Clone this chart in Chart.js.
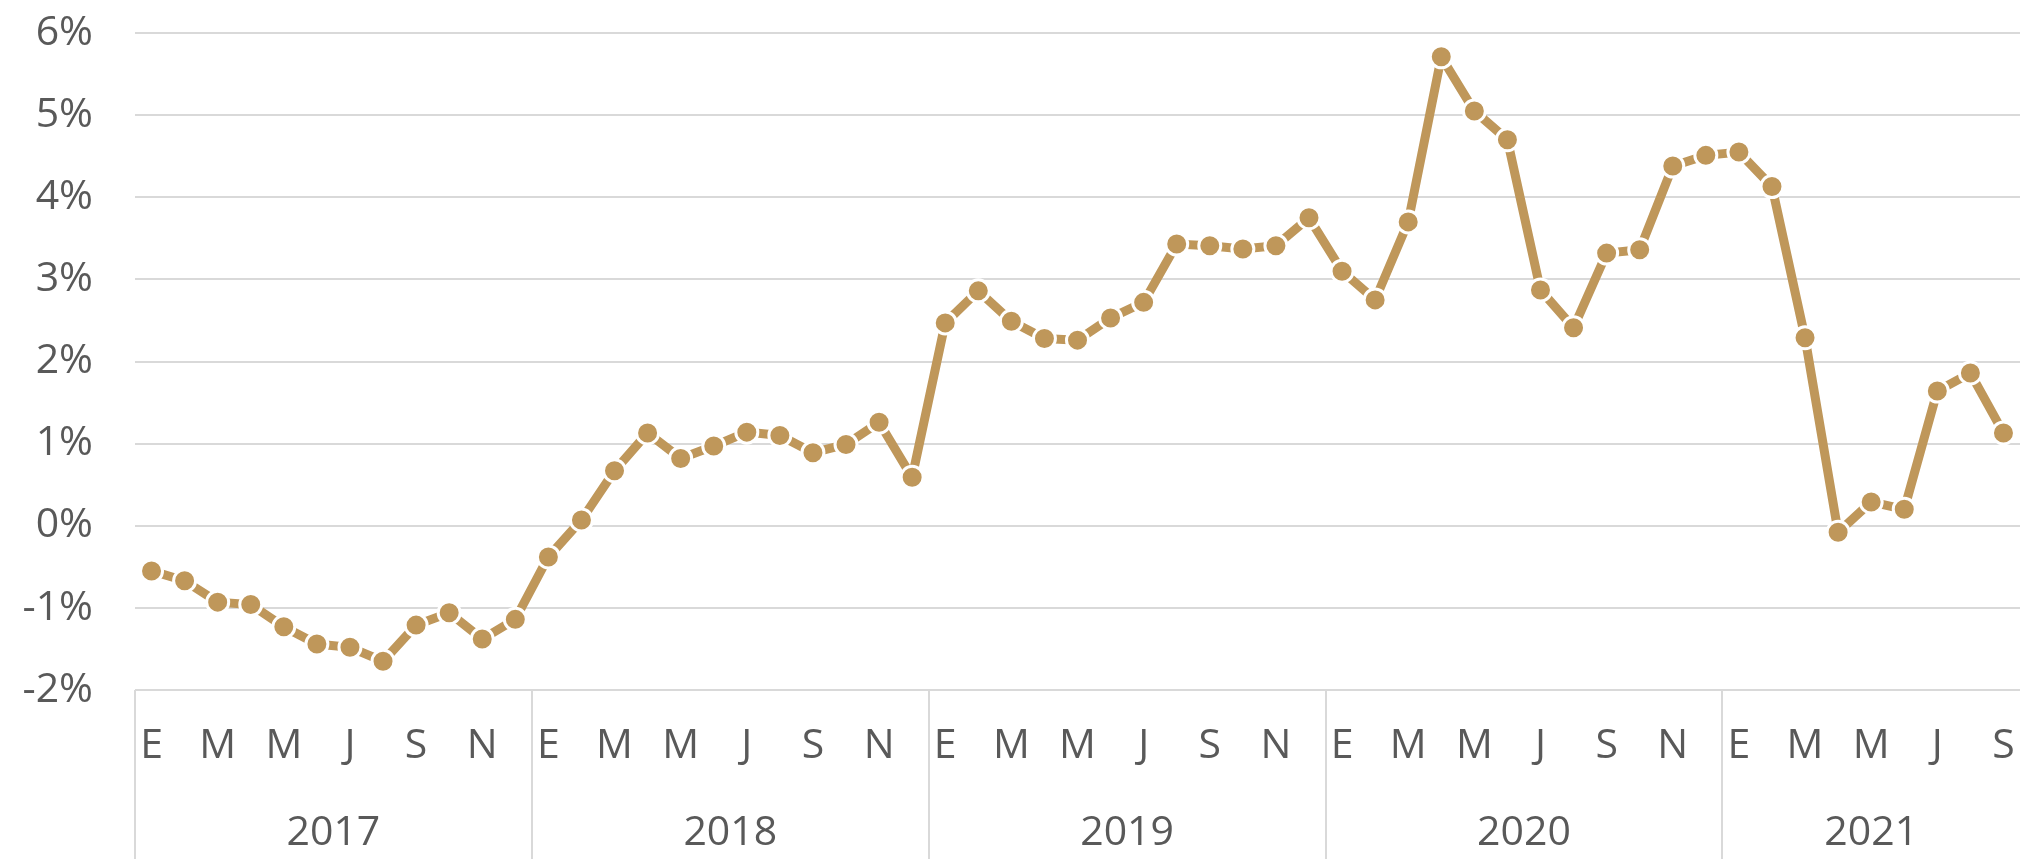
<!DOCTYPE html>
<html>
<head>
<meta charset="utf-8">
<script src="https://cdn.jsdelivr.net/npm/chart.js@4"></script>
<style>
  html, body { margin: 0; padding: 0; background: #fff; }
  #wrap { width: 2020px; height: 859px; }
</style>
</head>
<body>
<div id="wrap"><canvas id="chart" width="2020" height="859"></canvas></div>
<script>
// month initials (Spanish) and years shown on the x axis
const monthInitials = ['E', 'F', 'M', 'A', 'M', 'J', 'J', 'A', 'S', 'O', 'N', 'D'];
const years = ['2017', '2018', '2019', '2020', '2021'];
const monthsPerYear = [12, 12, 12, 12, 9];

// monthly values, % (Jan 2017 - Sep 2021)
const values = [
  -0.55, -0.67, -0.93, -0.96, -1.23, -1.44, -1.48, -1.65, -1.21, -1.06, -1.38, -1.14,
  -0.38, 0.07, 0.67, 1.13, 0.82, 0.97, 1.14, 1.10, 0.89, 0.99, 1.26, 0.59,
  2.47, 2.86, 2.49, 2.28, 2.26, 2.53, 2.72, 3.43, 3.41, 3.37, 3.41, 3.75,
  3.10, 2.75, 3.70, 5.71, 5.05, 4.70, 2.87, 2.41, 3.32, 3.36, 4.38, 4.51,
  4.55, 4.13, 2.29, -0.08, 0.29, 0.20, 1.64, 1.86, 1.13
];

const yMin = -2;
const yMax = 6;

const labels = [];
const yearStart = [];
years.forEach((y, i) => {
  yearStart.push(labels.length);
  for (let m = 0; m < monthsPerYear[i]; m++) labels.push(monthInitials[m]);
});

const textColor = '#595959';
const gridColor = '#d9d9d9';
const lineColor = '#BF975A';
const fontFamily = '"Open Sans", "Noto Sans", sans-serif';

// year groups below month letters, with separators
const yearGroups = {
  id: 'yearGroups',
  afterDraw(chart) {
    const ctx = chart.ctx;
    const x = chart.scales.x;
    const half = (x.getPixelForValue(1) - x.getPixelForValue(0)) / 2;
    const top = chart.chartArea.bottom;
    ctx.save();
    ctx.strokeStyle = gridColor;
    ctx.lineWidth = 2;
    ctx.fillStyle = textColor;
    ctx.font = '41px ' + fontFamily;
    ctx.textAlign = 'center';
    ctx.textBaseline = 'middle';
    years.forEach((y, i) => {
      const first = yearStart[i];
      const last = first + monthsPerYear[i] - 1;
      const left = x.getPixelForValue(first) - half;
      const right = x.getPixelForValue(last) + half;
      ctx.beginPath();
      ctx.moveTo(Math.round(left), top);
      ctx.lineTo(Math.round(left), chart.height);
      ctx.stroke();
      ctx.fillText(y, (left + right) / 2, 833);
    });
    ctx.restore();
  }
};

new Chart(document.getElementById('chart'), {
  type: 'line',
  data: {
    labels: labels,
    datasets: [{
      data: values,
      borderColor: lineColor,
      borderWidth: 9,
      tension: 0,
      pointRadius: 11,
      pointBackgroundColor: lineColor,
      pointBorderColor: '#ffffff',
      pointBorderWidth: 3,
      clip: false,
    }],
  },
  options: {
    responsive: false,
    animation: false,
    events: [],
    layout: { autoPadding: false, padding: { top: 33, left: 0, right: 0, bottom: 0 } },
    plugins: {
      legend: { display: false },
      tooltip: { enabled: false },
    },
    scales: {
      x: {
        offset: true,
        grid: { display: false, drawTicks: false },
        border: { display: false },
        ticks: {
          autoSkip: false,
          maxRotation: 0,
          padding: 32,
          color: textColor,
          font: { size: 41, family: fontFamily },
          callback: (v, i) => (i % 2 === 0 ? labels[i] : ''),
        },
        afterFit: (scale) => {
          scale.height = 169;
          scale.paddingLeft = 0;
          scale.paddingRight = 0;
        },
      },
      y: {
        min: yMin,
        max: yMax,
        grid: { color: gridColor, lineWidth: 2, drawTicks: false },
        border: { display: false },
        ticks: {
          stepSize: 1,
          padding: 42,
          color: textColor,
          font: { size: 41, family: fontFamily },
          callback: (v) => v + '%',
        },
        afterFit: (scale) => {
          scale.width = 135;
          scale.paddingTop = 0;
          scale.paddingBottom = 0;
        },
      },
    },
  },
  plugins: [yearGroups],
});
</script>
</body>
</html>
